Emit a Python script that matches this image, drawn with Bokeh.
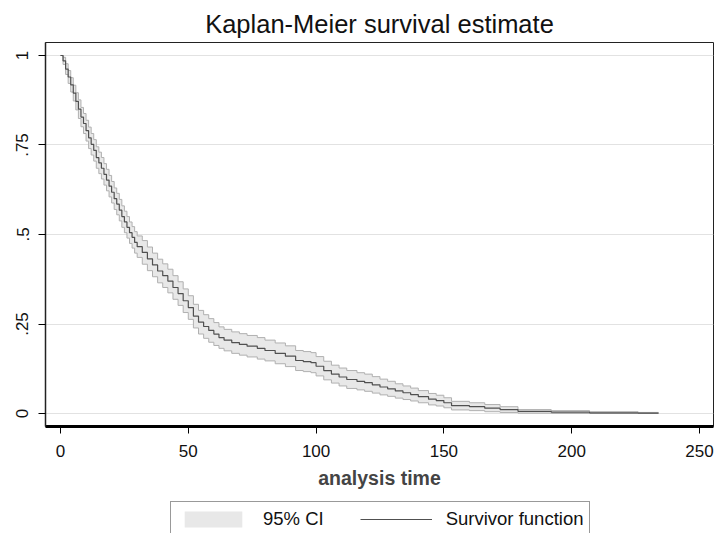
from bokeh.plotting import figure
from bokeh.layouts import column
from bokeh.models import Range1d, FixedTicker, Legend, LegendItem, ColumnDataSource
from bokeh.embed import file_html
from bokeh.resources import INLINE

# Kaplan-Meier estimate
times = [0, 1, 2, 3, 4, 5, 6, 7, 8, 9, 10, 11, 12, 13, 14, 15, 16, 17, 18, 19, 20,
         21, 22, 23, 24, 25, 26, 27, 28, 29, 30,
         32, 34, 36, 38, 40, 42, 44, 46, 48, 50, 52, 54, 56, 58, 60,
         62, 64, 67, 70, 73, 77, 80, 84, 88, 92, 95, 98, 100,
         103, 106, 109, 112, 116, 119, 122, 125, 128, 131, 134, 137, 140, 144, 147, 150,
         153, 160, 166, 172, 179, 192, 207, 226, 234]
survival = [1.0, 0.985, 0.962, 0.94, 0.918, 0.895, 0.872, 0.85, 0.828, 0.81, 0.79,
            0.77, 0.752, 0.735, 0.715, 0.7, 0.685, 0.668, 0.652, 0.635, 0.618,
            0.6, 0.585, 0.568, 0.55, 0.535, 0.52, 0.505, 0.492, 0.478, 0.466,
            0.45, 0.432, 0.415, 0.398, 0.385, 0.37, 0.352, 0.335, 0.315, 0.296,
            0.272, 0.255, 0.243, 0.232, 0.222,
            0.212, 0.205, 0.198, 0.193, 0.188, 0.182, 0.176, 0.168, 0.16, 0.148,
            0.145, 0.142, 0.132,
            0.12, 0.11, 0.102, 0.095, 0.09, 0.086, 0.08, 0.074, 0.069, 0.063,
            0.058, 0.053, 0.047, 0.04, 0.036, 0.03,
            0.022, 0.019, 0.015, 0.011, 0.006, 0.004, 0.002, 0.001, 0.001]
ci_lower = [1.0, 0.975, 0.947, 0.922, 0.898, 0.873, 0.848, 0.824, 0.801, 0.782, 0.761,
            0.74, 0.722, 0.705, 0.685, 0.67, 0.655, 0.638, 0.622, 0.605, 0.588,
            0.57, 0.555, 0.538, 0.52, 0.505, 0.49, 0.475, 0.462, 0.448, 0.436,
            0.417, 0.399, 0.382, 0.365, 0.352, 0.337, 0.319, 0.302, 0.282, 0.263,
            0.239, 0.222, 0.21, 0.199, 0.19,
            0.182, 0.175, 0.168, 0.163, 0.158, 0.152, 0.147, 0.139, 0.131, 0.12,
            0.117, 0.114, 0.105,
            0.094, 0.085, 0.077, 0.07, 0.066, 0.062, 0.057, 0.052, 0.048, 0.043,
            0.039, 0.035, 0.03, 0.024, 0.021, 0.016,
            0.01, 0.008, 0.005, 0.003, 0.001, 0.0, 0.0, 0.0, 0.0]
ci_upper = [1.0, 0.995, 0.977, 0.958, 0.938, 0.917, 0.896, 0.876, 0.855, 0.838, 0.819,
            0.8, 0.782, 0.765, 0.745, 0.73, 0.715, 0.698, 0.682, 0.665, 0.648,
            0.63, 0.615, 0.598, 0.58, 0.565, 0.55, 0.535, 0.522, 0.508, 0.496,
            0.483, 0.465, 0.448, 0.431, 0.418, 0.403, 0.385, 0.368, 0.348, 0.329,
            0.305, 0.288, 0.276, 0.265, 0.254,
            0.242, 0.235, 0.228, 0.223, 0.218, 0.212, 0.205, 0.197, 0.189, 0.176,
            0.173, 0.17, 0.159,
            0.146, 0.135, 0.127, 0.12, 0.114, 0.11, 0.103, 0.096, 0.09, 0.083,
            0.077, 0.071, 0.064, 0.056, 0.051, 0.044,
            0.034, 0.03, 0.025, 0.019, 0.011, 0.008, 0.005, 0.003, 0.003]

x_ticks = [0, 50, 100, 150, 200, 250]
y_ticks = [0, 0.25, 0.5, 0.75, 1]
y_tick_labels = {0: "0", 0.25: ".25", 0.5: ".5", 0.75: ".75", 1: "1"}
legend_labels = ["95% CI", "Survivor function"]

FONT = "Liberation Sans"
BAND_FILL = "#e8e8e8"
BAND_EDGE = "#b0b0b0"
LINE_COLOR = "#505050"

src = ColumnDataSource(dict(t=times, s=survival, lo=ci_lower, hi=ci_upper))

p = figure(width=715, height=500, output_backend="svg", toolbar_location=None,
           x_range=Range1d(-5.87, 255.5), y_range=Range1d(-0.0363, 1.0363),
           min_border_left=45, min_border_right=2, min_border_top=42,
           min_border_bottom=74)

p.title.text = "Kaplan-Meier survival estimate"
p.title.align = "center"
p.title.text_font = FONT
p.title.text_font_size = "25.5px"
p.title.text_font_style = "normal"
p.title.text_color = "#111111"

p.background_fill_color = "white"
p.border_fill_color = "white"
p.outline_line_color = "#222222"
p.outline_line_width = 1

p.varea_step(x="t", y1="lo", y2="hi", step_mode="after", source=src,
             fill_color=BAND_FILL)
p.step(x="t", y="lo", mode="after", source=src, line_color=BAND_EDGE, line_width=1)
p.step(x="t", y="hi", mode="after", source=src, line_color=BAND_EDGE, line_width=1)
p.step(x="t", y="s", mode="after", source=src, line_color=LINE_COLOR, line_width=1.2)

p.xgrid.visible = False
p.ygrid.ticker = FixedTicker(ticks=y_ticks)
p.ygrid.grid_line_color = "#e2e2e2"
p.ygrid.grid_line_width = 1

xa = p.xaxis[0]
xa.ticker = FixedTicker(ticks=x_ticks)
xa.axis_label = "analysis time"
xa.axis_label_text_font = FONT
xa.axis_label_text_font_style = "bold"
xa.axis_label_text_font_size = "19.5px"
xa.axis_label_standoff = 7
xa.major_label_text_font = FONT
xa.major_label_text_font_size = "17px"
xa.major_label_text_color = "#111111"
xa.axis_line_color = "black"
xa.axis_line_width = 3
xa.major_tick_line_color = "black"
xa.major_tick_out = 7
xa.major_tick_in = 0
xa.minor_tick_line_color = None
xa.major_label_standoff = 11

ya = p.yaxis[0]
ya.ticker = FixedTicker(ticks=y_ticks)
ya.major_label_overrides = y_tick_labels
ya.major_label_orientation = "vertical"
ya.major_label_text_font = FONT
ya.major_label_text_font_size = "17px"
ya.major_label_text_color = "#111111"
ya.axis_line_color = "#222222"
ya.axis_line_width = 1.5
ya.major_tick_line_color = "black"
ya.major_tick_out = 7
ya.major_tick_in = 0
ya.minor_tick_line_color = None
ya.major_label_standoff = 10

# legend strip below the chart (proxy renderers share the data but stay hidden)
lf = figure(width=715, height=33, output_backend="svg", toolbar_location=None,
            x_range=Range1d(0, 1), y_range=Range1d(0, 1), min_border=0,
            x_axis_location=None, y_axis_location=None)
lf.grid.visible = False
lf.outline_line_color = None
lf.background_fill_color = "white"
lf.border_fill_color = "white"
band_proxy = lf.varea_step(x="t", y1="lo", y2="hi", step_mode="after", source=src,
                           fill_color=BAND_FILL, visible=False)
line_proxy = lf.step(x="t", y="s", mode="after", source=src, line_color=LINE_COLOR,
                     line_width=1.2, visible=False)

legend = Legend(items=[LegendItem(label=legend_labels[0], renderers=[band_proxy]),
                       LegendItem(label=legend_labels[1], renderers=[line_proxy])],
                orientation="horizontal", location=(125, -4),
                border_line_color="#333333", border_line_width=1,
                background_fill_color="white",
                label_text_font=FONT, label_text_font_size="18.5px",
                label_text_color="#111111",
                glyph_width=72, glyph_height=20, spacing=36, padding=6,
                label_standoff=14, margin=0)
lf.add_layout(legend, "center")

open("out.html", "w").write(file_html(column(p, lf, spacing=0), INLINE))
